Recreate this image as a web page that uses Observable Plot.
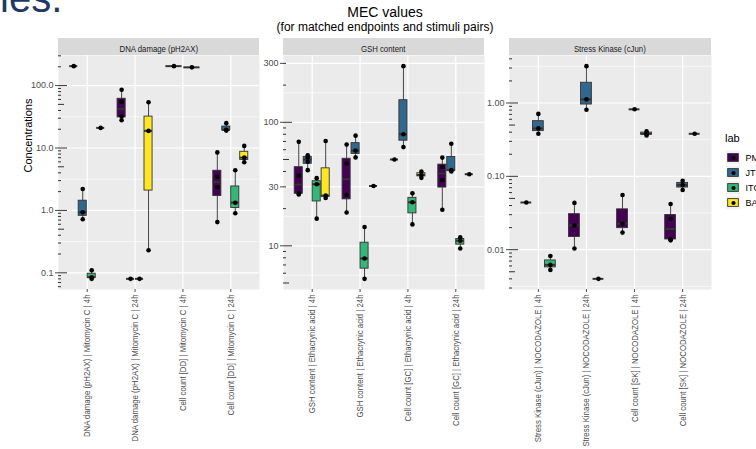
<!DOCTYPE html>
<html><head><meta charset="utf-8">
<script src="https://cdn.jsdelivr.net/npm/d3@7"></script>
<script src="https://cdn.jsdelivr.net/npm/@observablehq/plot@0.6"></script>
<style>
body{margin:0;background:#fff;}
#root{position:relative;width:756px;height:449px;overflow:hidden;font-family:"Liberation Sans",Arial,sans-serif;}
.abs{position:absolute;white-space:nowrap;}
.strip{position:absolute;background:#D9D9D9;color:#1A1A1A;text-align:center;height:17px;line-height:17px;white-space:nowrap;}
.strip span{display:inline-block;font-size:9.5px;transform:scaleX(0.82);}
svg{position:absolute;}
</style></head><body><div id="root"></div>
<script>
const FONT = '"Liberation Sans",Arial,sans-serif';

// ---- data ----
const labs = ["PMI", "JTI", "ITC", "BAT"];
const labColors = ["#440154", "#31688E", "#35B779", "#FDE725"];
const panelTitles = ["DNA damage (pH2AX)", "GSH content", "Stress Kinase (cJun)"];

const dnaCategories = ["DNA damage (pH2AX) | Mitomycin C | 4h", "DNA damage (pH2AX) | Mitomycin C | 24h", "Cell count [DD] | Mitomycin C | 4h", "Cell count [DD] | Mitomycin C | 24h"];
const gshCategories = ["GSH content | Ethacrynic acid | 4h", "GSH content | Ethacrynic acid | 24h", "Cell count [GC] | Ethacrynic acid | 4h", "Cell count [GC] | Ethacrynic acid | 24h"];
const skCategories = ["Stress Kinase (cJun) | NOCODAZOLE | 4h", "Stress Kinase (cJun) | NOCODAZOLE | 24h", "Cell count [SK] | NOCODAZOLE | 4h", "Cell count [SK] | NOCODAZOLE | 24h"];

// [category index, lab, measured values]
const dnaValues = [
  [0, "PMI", [205]],
  [0, "JTI", [0.72, 0.93, 2.2]],
  [0, "ITC", [0.08, 0.085, 0.11]],
  [0, "BAT", [21]],
  [1, "PMI", [27.8, 32, 55, 86]],
  [1, "JTI", [0.08]],
  [1, "ITC", [0.08]],
  [1, "BAT", [0.23, 18.8, 54]],
  [2, "PMI", [205]],
  [2, "JTI", [196]],
  [3, "PMI", [0.65, 2.35, 3.45, 8.5]],
  [3, "JTI", [19, 19.5, 25]],
  [3, "ITC", [0.9, 1.33, 4.4]],
  [3, "BAT", [5.9, 7.0, 10.8]]
];
const gshValues = [
  [0, "PMI", [26, 26.5, 37, 69.5]],
  [0, "JTI", [41, 48, 52, 54]],
  [0, "ITC", [16.6, 31.5, 35.3]],
  [0, "BAT", [24.4, 25.5, 70.5]],
  [1, "PMI", [18.6, 25.8, 46.4, 66]],
  [1, "JTI", [52, 59, 78]],
  [1, "ITC", [5.4, 7.9, 14.2]],
  [1, "BAT", [30.5]],
  [2, "PMI", [50]],
  [2, "JTI", [63, 80, 285]],
  [2, "ITC", [14.9, 22.5, 26.6]],
  [2, "BAT", [35.5, 37.5, 40]],
  [3, "PMI", [19.6, 34, 43.5, 51.8]],
  [3, "JTI", [40, 41, 67]],
  [3, "ITC", [9.5, 11, 11.7]],
  [3, "BAT", [38]]
];
const skValues = [
  [0, "PMI", [0.044]],
  [0, "JTI", [0.38, 0.45, 0.71]],
  [0, "ITC", [0.0053, 0.0062, 0.0082]],
  [1, "PMI", [0.0104, 0.0214, 0.0434]],
  [1, "JTI", [0.81, 1.12, 3.18]],
  [1, "ITC", [0.004]],
  [2, "PMI", [0.0171, 0.0226, 0.0557]],
  [2, "JTI", [0.82]],
  [2, "ITC", [0.36, 0.38, 0.41]],
  [3, "PMI", [0.0134, 0.0139, 0.0264, 0.042]],
  [3, "JTI", [0.065, 0.076, 0.087]],
  [3, "ITC", [0.38]]
];

const dnaTicks = [0.1, 1, 10, 100];
const dnaTickLabels = ["0.1", "1.0", "10.0", "100.0"];
const gshTicks = [10, 30, 100, 300];
const gshTickLabels = ["10", "30", "100", "300"];
const skTicks = [0.01, 0.1, 1];
const skTickLabels = ["0.01", "0.10", "1.00"];

const titleText = "MEC values";
const subtitleText = "(for matched endpoints and stimuli pairs)";
const yTitle = "Concentrations";
const legendTitle = "lab";
const slideText = "ies.";

// ---- layout ----
const root = document.getElementById("root");
function addDiv(text, css, cls = "abs") {
  const d = document.createElement("div");
  d.className = cls;
  d.textContent = text;
  Object.assign(d.style, css);
  root.appendChild(d);
  return d;
}

addDiv(slideText, {left: "0px", top: "-22px", fontSize: "40px", color: "#1F3864", lineHeight: "40px"});
addDiv(titleText, {left: "285px", width: "200px", textAlign: "center", top: "4px", fontSize: "14px", color: "#000", lineHeight: "16px"});
addDiv(subtitleText, {left: "235px", width: "300px", textAlign: "center", top: "20px", fontSize: "12px", color: "#000", lineHeight: "14px"});

const PANEL_TOP = 55, PANEL_H = 234, SVG_H = 394;

function panel({categories, values, ticks, tickLabels, svgLeft, marginLeft, width, title, yLabel}) {
  const groups = values.map(([ci, lab, vals]) => ({ci, lab, vals}));
  const stats = groups.map(g => {
    const members = groups.filter(h => h.ci === g.ci).sort((a, b) => labs.indexOf(a.lab) - labs.indexOf(b.lab));
    const n = members.length, k = members.indexOf(g);
    const step = 0.75 / n;
    const x = g.ci + 1 + (k - (n - 1) / 2) * step;
    const logs = g.vals.map(Math.log10).sort(d3.ascending);
    const q1 = d3.quantileSorted(logs, 0.25), med = d3.quantileSorted(logs, 0.5), q3 = d3.quantileSorted(logs, 0.75);
    const iqr = q3 - q1;
    const lo = d3.min(logs.filter(v => v >= q1 - 1.5 * iqr)), hi = d3.max(logs.filter(v => v <= q3 + 1.5 * iqr));
    const p = v => 10 ** v;
    return {lab: g.lab, x, x1: x - 0.45 * step, x2: x + 0.45 * step, q1: p(q1), med: p(med), q3: p(q3), lo: p(lo), hi: p(hi), vals: g.vals};
  });
  const points = stats.flatMap(s => s.vals.map(v => ({x: s.x, v})));
  const [mn, mx] = d3.extent(points, d => Math.log10(d.v));
  const pad = (mx - mn) * 0.05;
  const L0 = mn - pad, L1 = mx + pad;
  const domain = [10 ** L0, 10 ** L1];
  // annotation log ticks
  const logLong = [], logMid = [], logShort = [];
  for (let e = Math.floor(L0); e <= Math.ceil(L1); e++) {
    for (let m = 1; m <= 9; m++) {
      const v = m * 10 ** e;
      if (v < domain[0] || v > domain[1]) continue;
      (m === 1 ? logLong : m === 5 ? logMid : logShort).push(v);
    }
  }
  // minor grid: midpoints between major breaks in log space
  const b = ticks.map(Math.log10);
  const bd = b[1] - b[0];
  if (L0 < b[0]) b.unshift(b[0] - bd);
  if (L1 > b[b.length - 1]) b.push(b[b.length - 1] + bd);
  const minor = d3.pairs(b, (a, c) => 10 ** ((a + c) / 2)).filter(v => v > domain[0] && v < domain[1]);

  const pw = width - marginLeft;
  const cats = d3.range(1, categories.length + 1);
  const marks = [
    Plot.frame({fill: "#EBEBEB", stroke: "none"}),
    Plot.ruleY(minor, {stroke: "white", strokeWidth: 0.6}),
    Plot.ruleY(ticks, {stroke: "white", strokeWidth: 1.2}),
    Plot.ruleX(cats, {stroke: "white", strokeWidth: 1.2}),
    Plot.ruleY(logShort, {stroke: "black", strokeWidth: 0.8, insetRight: pw - 3}),
    Plot.ruleY(logMid, {stroke: "black", strokeWidth: 0.8, insetRight: pw - 6}),
    Plot.ruleY(logLong, {stroke: "black", strokeWidth: 0.8, insetRight: pw - 9}),
    Plot.ruleX(stats, {x: "x", y1: "lo", y2: "hi", stroke: "#333333", strokeWidth: 0.9}),
    Plot.rect(stats, {x1: "x1", x2: "x2", y1: "q1", y2: "q3", fill: "lab", stroke: "#333333", strokeWidth: 0.9}),
    Plot.ruleY(stats, {y: "med", x1: "x1", x2: "x2", stroke: "#333333", strokeWidth: 2}),
    Plot.dot(points, {x: "x", y: "v", r: 2.3, fill: "black", stroke: "none"}),
    Plot.axisY(ticks, {tickFormat: d => tickLabels[ticks.indexOf(d)], fontSize: 9, color: "#4D4D4D", tickSize: 3, tickPadding: 2, label: null}),
    Plot.axisX(cats, {tickFormat: d => categories[d - 1], tickRotate: -90, fontSize: 9.5, color: "#4D4D4D", tickSize: 3, tickPadding: 2, label: null})
  ];
  if (yLabel) marks.push(Plot.text([yLabel], {frameAnchor: "left", dx: -30, rotate: -90, text: d => d, fontSize: 11, fill: "#000"}));
  const svg = Plot.plot({
    width, height: SVG_H,
    marginLeft, marginRight: 0, marginTop: 0, marginBottom: SVG_H - PANEL_H,
    x: {domain: [0.4, categories.length + 0.6], axis: null},
    y: {type: "log", domain, axis: null},
    color: {domain: labs, range: labColors},
    style: {background: "transparent", overflow: "visible", fontFamily: FONT, maxWidth: "none"},
    marks
  });
  svg.style.left = svgLeft + "px";
  svg.style.top = PANEL_TOP + "px";
  root.appendChild(svg);
  // condense the rotated category labels (narrow typeface in the reference)
  svg.querySelectorAll('g[aria-label="x-axis tick label"] text').forEach(t => {
    const len = t.getComputedTextLength();
    if (len > 0) {
      t.setAttribute("textLength", (len * 0.82).toFixed(1));
      t.setAttribute("lengthAdjust", "spacingAndGlyphs");
    }
  });
  const strip = addDiv("", {left: (svgLeft + marginLeft) + "px", top: "38px", width: pw + "px"}, "strip");
  const span = document.createElement("span");
  span.textContent = title;
  strip.appendChild(span);
}

panel({categories: dnaCategories, values: dnaValues, ticks: dnaTicks, tickLabels: dnaTickLabels, svgLeft: 0, marginLeft: 58, width: 259, title: panelTitles[0], yLabel: yTitle});
panel({categories: gshCategories, values: gshValues, ticks: gshTicks, tickLabels: gshTickLabels, svgLeft: 259, marginLeft: 24, width: 225, title: panelTitles[1]});
panel({categories: skCategories, values: skValues, ticks: skTicks, tickLabels: skTickLabels, svgLeft: 484, marginLeft: 25, width: 227, title: panelTitles[2]});

// ---- legend ----
addDiv(legendTitle, {left: "725px", top: "131px", fontSize: "11px", color: "#000", lineHeight: "14px"});
const legend = Plot.plot({
  width: 60, height: 63, marginLeft: 4, marginRight: 42, marginTop: 0, marginBottom: 0,
  x: {domain: [0, 1], axis: null},
  y: {domain: labs, axis: null, padding: 0},
  color: {domain: labs, range: labColors},
  style: {background: "transparent", overflow: "visible", fontFamily: FONT, maxWidth: "none"},
  marks: [
    Plot.barX(labs, {y: d => d, x1: 0, x2: 1, fill: "#F2F2F2", insetTop: 0.6, insetBottom: 0.6}),
    Plot.ruleX(labs, {y: d => d, x: 0.5, stroke: "#333333", insetTop: 1.5, insetBottom: 1.5}),
    Plot.barX(labs, {y: d => d, x1: 0.12, x2: 0.88, fill: d => d, stroke: "#333333", strokeWidth: 0.9, insetTop: 3.6, insetBottom: 3.6}),
    Plot.dot(labs, {y: d => d, x: 0.5, r: 2.1, fill: "black"}),
    Plot.text(labs, {y: d => d, x: 1, dx: 5, text: d => d, textAnchor: "start", fontSize: 9, fill: "#000"})
  ]
});
legend.style.left = "722px";
legend.style.top = "148px";
root.appendChild(legend);
</script></body></html>
